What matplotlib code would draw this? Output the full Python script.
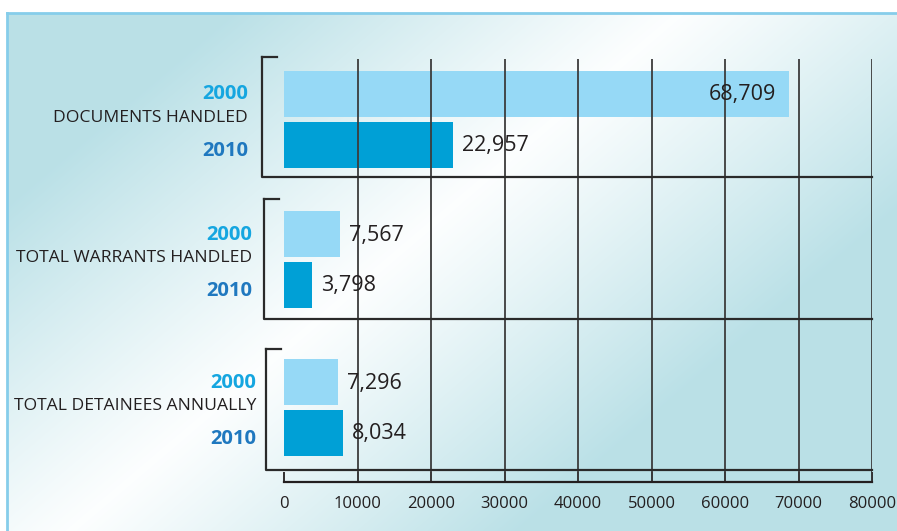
import numpy as np
import matplotlib
matplotlib.use("Agg")
import matplotlib.pyplot as plt

# data
categories = ["DOCUMENTS HANDLED", "TOTAL WARRANTS HANDLED", "TOTAL DETAINEES ANNUALLY"]
years = ["2000", "2010"]
values_2000 = [68709, 7567, 7296]
values_2010 = [22957, 3798, 8034]
xticks = [0, 10000, 20000, 30000, 40000, 50000, 60000, 70000, 80000]

# layout (pixel rows of the original picture)
W, H = 897, 531
x0_px, x1_px = 284, 872
y_top, y_axis = 59, 482
group_centers = [119, 259.5, 407.5]
group_top = [57, 199, 349]
group_bottom = [177, 319, 470]
bracket_px = [262, 264, 266]
label_right = [248, 252, 256]
bar_off = 25.5
bar_h = 46

c2000 = "#96d9f6"
c2010 = "#00a0d6"
lab2000 = "#15a6e0"
lab2010 = "#1f78bf"
dark = "#231f20"
grid_c = "#3c3c3c"

plt.rcParams['font.family'] = ['Open Sans', 'DejaVu Sans']

fig = plt.figure(figsize=(W / 100, H / 100), dpi=100, facecolor="white")

# background panel with diagonal gradient
bg = fig.add_axes([7 / W, 0, (W - 7) / W, (H - 13) / H])
yy, xx = np.mgrid[13:H, 7:W]
t = 0.85 * xx + yy
d = np.clip(np.abs(t - 590) / 380, 0, 1) ** 1.1
teal = np.array([0.73, 0.88, 0.905])
white = np.array([0.99, 0.997, 0.998])
img = white[None, None, :] * (1 - d[..., None]) + teal[None, None, :] * d[..., None]
bg.imshow(img, aspect="auto", extent=[0, 1, 0, 1])
bg.set_axis_off()
fig.add_artist(plt.Line2D([7 / W, 1], [(H - 13) / H] * 2, color="#86cdea", lw=2))
fig.add_artist(plt.Line2D([7 / W] * 2, [0, (H - 13) / H], color="#86cdea", lw=2))

ax = fig.add_axes([x0_px / W, (H - y_axis) / H, (x1_px - x0_px) / W, (y_axis - y_top) / H])
ax.patch.set_alpha(0)
ax.set_xlim(0, 80000)
ax.set_ylim(y_axis, y_top)

def px2x(px):
    return (px - x0_px) / (x1_px - x0_px) * 80000

ys_2000 = [c - bar_off for c in group_centers]
ys_2010 = [c + bar_off for c in group_centers]
ax.barh(ys_2000, values_2000, height=bar_h, color=c2000, zorder=1)
ax.barh(ys_2010, values_2010, height=bar_h, color=c2010, zorder=1)

# vertical grid
ax.vlines(xticks[1:], y_top, y_axis, color=grid_c, lw=1.3, zorder=2)

# group brackets
for i in range(len(categories)):
    bx = px2x(bracket_px[i])
    ax.plot([bx, bx, 80000], [group_top[i], group_bottom[i], group_bottom[i]],
            color="#2a2a2a", lw=1.6, clip_on=False, zorder=3)
    ax.plot([bx, px2x(bracket_px[i] + 15)], [group_top[i]] * 2,
            color="#2a2a2a", lw=1.6, clip_on=False, zorder=3)
    lx = px2x(label_right[i])
    ax.text(lx, group_centers[i] - 1, categories[i], ha="right", va="center",
            fontsize=12.6, color=dark, clip_on=False)
    ax.text(lx, group_centers[i] - 25, years[0], ha="right", va="center",
            fontsize=14.5, fontweight="bold", color=lab2000, clip_on=False)
    ax.text(lx, group_centers[i] + 32, years[1], ha="right", va="center",
            fontsize=14.5, fontweight="bold", color=lab2010, clip_on=False)

# value labels
for vals, ys in [(values_2000, ys_2000), (values_2010, ys_2010)]:
    for v, y in zip(vals, ys):
        if v > 60000:
            ax.text(v - px2x(x0_px + 13), y + 1, f"{v:,}", ha="right", va="center",
                    fontsize=15.5, color=dark, zorder=4)
        else:
            ax.text(v + px2x(x0_px + 9), y + 1, f"{v:,}", ha="left", va="center",
                    fontsize=15.5, color=dark, zorder=4)

for s in ["top", "left", "right"]:
    ax.spines[s].set_visible(False)
ax.spines["bottom"].set_color(dark)
ax.spines["bottom"].set_linewidth(1.6)
ax.set_yticks([])
ax.set_xticks(xticks)
ax.set_xticklabels([str(x) for x in xticks])
ax.tick_params(axis="x", direction="in", length=7.5, width=1.3, color=dark,
               labelcolor=dark, labelsize=12, pad=10)

fig.savefig("out.png", dpi=100, facecolor="white")
